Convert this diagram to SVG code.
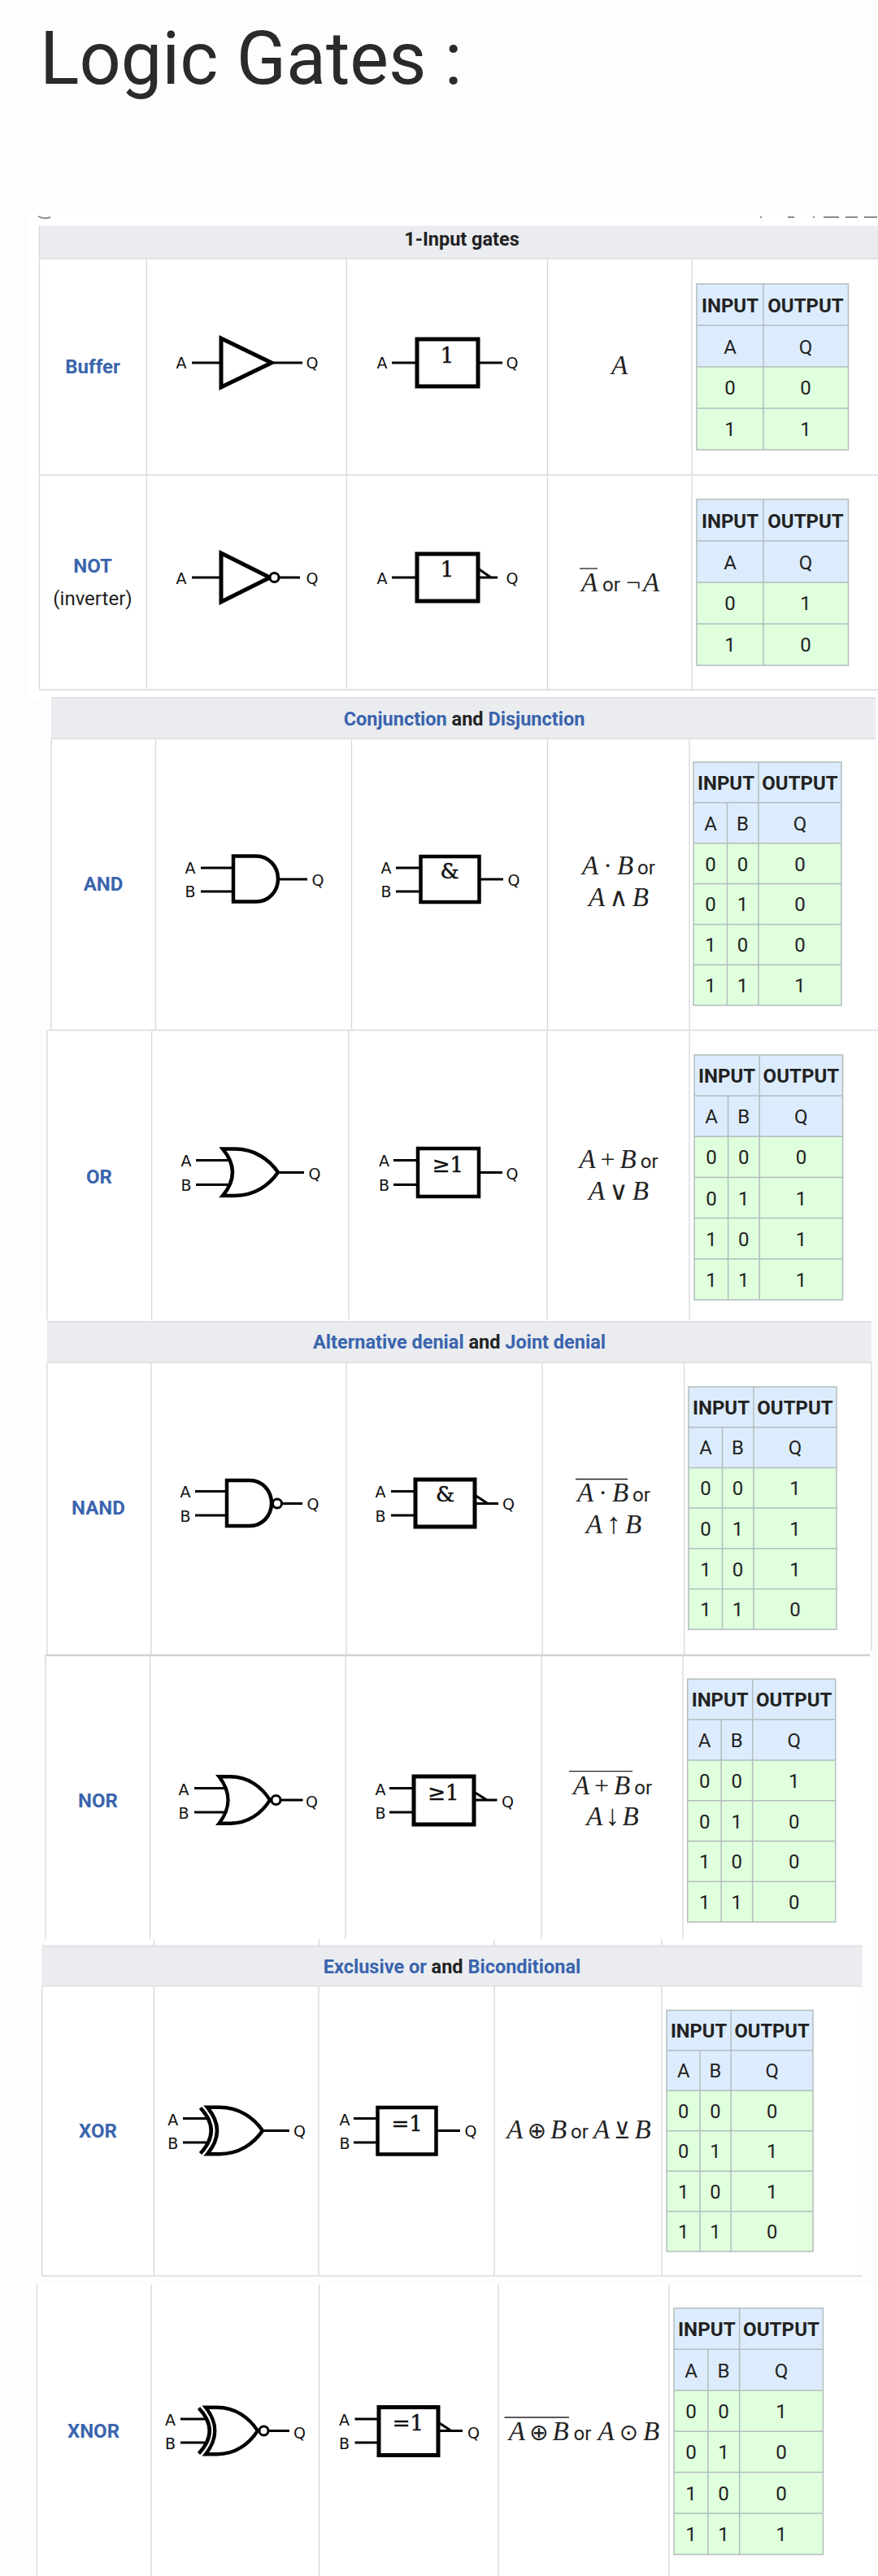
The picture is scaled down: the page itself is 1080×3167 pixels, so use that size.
<svg xmlns="http://www.w3.org/2000/svg" xmlns:xlink="http://www.w3.org/1999/xlink" width="1080" height="3167" viewBox="0 0 1080 3167">
<style>
text{font-family:Roboto,"Liberation Sans",sans-serif;fill:#222;text-anchor:middle}
.title{font-size:90px;fill:#2a2a2a;text-anchor:start}
.sh{font-size:23.5px;font-weight:700}
.lk{fill:#3a64ad}
.nm{font-size:24px;font-weight:700;fill:#3a64ad}
.pl{font-size:24px}
.th{font-size:24px;font-weight:700}
.c{font-size:24px}
.pin{font-family:"DejaVu Sans",sans-serif;font-size:19px;fill:#111}
.sym{font-family:"DejaVu Serif",serif;font-size:26px;fill:#111;stroke:#111;stroke-width:.5}
.mi{font-family:"Liberation Serif",serif;font-style:italic;font-size:33px}
.op{font-family:"Liberation Serif","DejaVu Sans",serif;font-size:32px}
.opc{font-family:"DejaVu Sans",sans-serif;font-size:28px}
.ar{font-family:"Liberation Serif","DejaVu Sans",serif;font-size:36px}
.or{font-family:Roboto,sans-serif;font-size:24px}
.hdr{fill:#eaecf0}
.ln{fill:none;stroke:#d5d7da;stroke-width:1.3}
.rl{fill:none;stroke:#e0e2e4;stroke-width:1.8}
.hl{fill:none;stroke:#d2d2d2;stroke-width:2.6}
.hd{fill:#dcecfd}.bd{fill:#dfffdd}
.tl{fill:none;stroke:#b3bdbd;stroke-width:1.5}
.b{fill:none;stroke:#000;stroke-width:4.5;stroke-linejoin:miter}
.t{fill:none;stroke:#000;stroke-width:5}
.w{fill:none;stroke:#000;stroke-width:3}
.n{fill:#fff;stroke:#000;stroke-width:3}
.ov{fill:none;stroke:#222;stroke-width:1.3}
.ar0{fill:none;stroke:#8a8a8a;stroke-width:2}
</style>
<defs>
<g id="tt1"><rect width="186.5" height="102" class="hd"/><rect y="102" width="186.5" height="102" class="bd"/><path class="tl" d="M0 0H186.5V204H0Z M0 51H186.5 M0 102H186.5 M0 153H186.5 M82 0V204"/></g>
<g id="tt2"><rect width="182" height="100" class="hd"/><rect y="100" width="182" height="200" class="bd"/><path class="tl" d="M0 0H182V300H0Z M0 50H182 M0 100H182 M0 150H182 M0 200H182 M0 250H182 M80 0V300 M41.5 50V300"/></g>
<path id="and" class="b" d="M0 -28H28C44 -28 55 -15 55 0C55 15 44 28 28 28H0Z"/>
<path id="or" class="b" d="M0 -28.7H15C39 -28.7 57 -16 68 0C57 16 39 28.7 15 28.7H0Q24 0 0 -28.7Z"/>
<path id="xb" class="b" d="M-8.5 -28Q18 0 -8.5 28"/>
</defs>
<rect width="1080" height="3167" fill="#fdfdfd"/>
<rect x="35" y="265" width="1045" height="595" fill="#fff"/>
<rect x="58" y="860" width="1022" height="765" fill="#fff"/>
<rect x="56" y="1675" width="1016" height="717" fill="#fff"/>
<rect x="52" y="2392" width="1009" height="406" fill="#fff"/>
<rect x="45" y="2809" width="1035" height="358" fill="#fff"/>
<text class="title" x="49" y="103">Logic Gates :</text>
<path class="ar0" d="M47 266Q54 270 62 267 M935 267H937 M969 267H977 M1000 267H1002 M1013 267H1032 M1040 267H1055 M1063 267H1079"/>

<g id="section-1">
<rect class="hdr" x="48" y="277.5" width="1032" height="40.5"/>
<path class="ln" d="M48.5 277V848 M180.4 318V848 M426.3 318V848 M673.5 318V848 M851 318V848"/>
<path class="rl" d="M48 318H1080 M48 584H1080 M48 848H1080"/>
<text class="sh" x="568" y="302">1-Input gates</text>
</g>

<g id="buffer">
<text class="nm" x="114" y="459">Buffer</text>
<path class="w" d="M236 446H272 M335 446H372 M482 446H512 M588 446H618"/>
<path class="t" d="M272 416V476L334 446Z"/>
<rect class="t" x="513" y="417" width="75" height="58"/>
<text class="pin" x="223" y="453">A</text><text class="pin" x="384" y="453">Q</text>
<text class="pin" x="470" y="453">A</text><text class="pin" x="630" y="453">Q</text>
<text class="sym" x="550" y="446">1</text>
<text class="mi" x="762" y="460">A</text>
<g transform="translate(857 349)"><use xlink:href="#tt1" href="#tt1"/>
<text class="th" x="41" y="35">INPUT</text><text class="th" x="134" y="35">OUTPUT</text>
<text class="c" x="41" y="86">A</text><text class="c" x="134" y="86">Q</text>
<text class="c" x="41" y="136">0</text><text class="c" x="134" y="136">0</text>
<text class="c" x="41" y="187">1</text><text class="c" x="134" y="187">1</text></g>
</g>

<g id="not">
<text class="nm" x="114" y="704">NOT</text>
<text class="pl" x="114" y="744">(inverter)</text>
<path class="w" d="M236 710H272 M344 710H369 M482 710H512 M588 710H612 M588 699L604 710"/>
<path class="t" d="M272 680V740L332 710Z"/>
<circle class="n" cx="337.5" cy="710" r="5.5"/>
<rect class="t" x="513" y="681" width="75" height="58"/>
<text class="pin" x="223" y="718">A</text><text class="pin" x="384" y="718">Q</text>
<text class="pin" x="470" y="718">A</text><text class="pin" x="630" y="718">Q</text>
<text class="sym" x="550" y="709">1</text>
<path class="ov" d="M713 699H735"/>
<text x="763" y="727"><tspan class="mi">A</tspan><tspan class="or" dx="6">or</tspan><tspan class="op" dx="7">¬</tspan><tspan class="mi" dx="3">A</tspan></text>
<g transform="translate(857 614)"><use xlink:href="#tt1" href="#tt1"/>
<text class="th" x="41" y="35">INPUT</text><text class="th" x="134" y="35">OUTPUT</text>
<text class="c" x="41" y="86">A</text><text class="c" x="134" y="86">Q</text>
<text class="c" x="41" y="136">0</text><text class="c" x="134" y="136">1</text>
<text class="c" x="41" y="187">1</text><text class="c" x="134" y="187">0</text></g>
</g>

<g id="section-2">
<rect class="hdr" x="63" y="858" width="1014" height="50"/>
<path class="ln" d="M63 908V1266 M191.5 908V1266 M432.5 908V1266 M673.5 908V1266 M848 908V1266 M58 1266V1622 M186.6 1266V1622 M429 1266V1622 M673 1266V1622 M848 1266V1622"/>
<path class="rl" d="M63 858H1077 M63 908H1077 M60 1266.5H1080"/>
<text class="sh" x="571" y="892"><tspan class="lk">Conjunction</tspan> and <tspan class="lk">Disjunction</tspan></text>
</g>

<g id="and-row">
<text class="nm" x="127" y="1095">AND</text>
<path class="w" d="M247 1067H285 M247 1096H285 M342 1081H378 M487 1067H517 M487 1096H517 M590 1081H619"/>
<use xlink:href="#and" href="#and" x="287" y="1080.5"/>
<rect class="b" x="517.5" y="1053" width="72" height="56"/>
<text class="pin" x="234" y="1074">A</text><text class="pin" x="234" y="1103">B</text><text class="pin" x="391" y="1089">Q</text>
<text class="pin" x="475" y="1074">A</text><text class="pin" x="475" y="1103">B</text><text class="pin" x="632" y="1089">Q</text>
<text class="sym" x="553" y="1080">&amp;</text>
<text x="761" y="1075"><tspan class="mi">A</tspan><tspan class="op" dx="6">·</tspan><tspan class="mi" dx="6">B</tspan><tspan class="or" dx="5">or</tspan></text>
<text x="761" y="1113.5"><tspan class="mi">A</tspan><tspan class="op" dx="5">∧</tspan><tspan class="mi" dx="5">B</tspan></text>
<g transform="translate(853 937) scale(1 .997)"><use xlink:href="#tt2" href="#tt2"/>
<text class="th" x="40" y="34">INPUT</text><text class="th" x="131" y="34">OUTPUT</text>
<text class="c" x="21" y="84">A</text><text class="c" x="60.5" y="84">B</text><text class="c" x="131" y="84">Q</text>
<text class="c" x="21" y="134">0</text><text class="c" x="60.5" y="134">0</text><text class="c" x="131" y="134">0</text>
<text class="c" x="21" y="184">0</text><text class="c" x="60.5" y="184">1</text><text class="c" x="131" y="184">0</text>
<text class="c" x="21" y="234">1</text><text class="c" x="60.5" y="234">0</text><text class="c" x="131" y="234">0</text>
<text class="c" x="21" y="284">1</text><text class="c" x="60.5" y="284">1</text><text class="c" x="131" y="284">1</text></g>
</g>

<g id="or-row">
<text class="nm" x="122" y="1455">OR</text>
<path class="w" d="M241 1426.5H281 M241 1456.5H281 M341 1441.5H374 M484 1426.5H514 M484 1456.5H514 M589 1441.5H618"/>
<use xlink:href="#or" href="#or" x="274" y="1441.3"/>
<rect class="b" x="514" y="1412" width="75" height="59"/>
<text class="pin" x="229" y="1433.5">A</text><text class="pin" x="229" y="1464">B</text><text class="pin" x="387" y="1449.5">Q</text>
<text class="pin" x="472.5" y="1433.5">A</text><text class="pin" x="472.5" y="1464">B</text><text class="pin" x="630" y="1449.5">Q</text>
<text class="sym" x="551" y="1441">≥1</text>
<text x="761" y="1435.5"><tspan class="mi">A</tspan><tspan class="op" dx="6">+</tspan><tspan class="mi" dx="6">B</tspan><tspan class="or" dx="5">or</tspan></text>
<text x="761" y="1474.5"><tspan class="mi">A</tspan><tspan class="op" dx="5">∨</tspan><tspan class="mi" dx="5">B</tspan></text>
<g transform="translate(854 1297) scale(1.003 1.003)"><use xlink:href="#tt2" href="#tt2"/>
<text class="th" x="40" y="34">INPUT</text><text class="th" x="131" y="34">OUTPUT</text>
<text class="c" x="21" y="84">A</text><text class="c" x="60.5" y="84">B</text><text class="c" x="131" y="84">Q</text>
<text class="c" x="21" y="134">0</text><text class="c" x="60.5" y="134">0</text><text class="c" x="131" y="134">0</text>
<text class="c" x="21" y="184">0</text><text class="c" x="60.5" y="184">1</text><text class="c" x="131" y="184">1</text>
<text class="c" x="21" y="234">1</text><text class="c" x="60.5" y="234">0</text><text class="c" x="131" y="234">1</text>
<text class="c" x="21" y="284">1</text><text class="c" x="60.5" y="284">1</text><text class="c" x="131" y="284">1</text></g>
</g>

<g id="section-3">
<rect class="hdr" x="58" y="1625" width="1014" height="50"/>
<path class="ln" d="M58 1675V2035 M186 1675V2035 M426 1675V2035 M667 1675V2035 M841.6 1675V2035 M1072 1675V2030 M56 2035V2384 M184.6 2035V2384 M425 2035V2384 M666 2035V2384 M840 2035V2384"/>
<path class="rl" d="M58 1625H1072 M58 1675H1072"/>
<path class="hl" d="M56 2035H1070"/>
<text class="sh" x="565" y="1658"><tspan class="lk">Alternative denial</tspan> and <tspan class="lk">Joint denial</tspan></text>
</g>

<g id="nand-row">
<text class="nm" x="121" y="1862">NAND</text>
<path class="w" d="M240 1833.5H278 M240 1863H278 M347 1848.5H372 M481 1833.5H510 M481 1863H510 M584 1848.5H613 M584 1838L600 1848.5"/>
<use xlink:href="#and" href="#and" x="279" y="1848"/>
<circle class="n" cx="341" cy="1848.5" r="5.5"/>
<rect class="t" x="511" y="1819" width="73" height="58"/>
<text class="pin" x="228" y="1841">A</text><text class="pin" x="228" y="1870.5">B</text><text class="pin" x="385" y="1856">Q</text>
<text class="pin" x="468" y="1841">A</text><text class="pin" x="468" y="1870.5">B</text><text class="pin" x="625.5" y="1856">Q</text>
<text class="sym" x="547.5" y="1846">&amp;</text>
<path class="ov" d="M708 1818.5H772"/>
<text x="755" y="1845.5"><tspan class="mi">A</tspan><tspan class="op" dx="6">·</tspan><tspan class="mi" dx="6">B</tspan><tspan class="or" dx="5">or</tspan></text>
<text x="755" y="1884.5"><tspan class="mi">A</tspan><tspan class="ar" dx="5">↑</tspan><tspan class="mi" dx="5">B</tspan></text>
<g transform="translate(847 1705) scale(1 .994)"><use xlink:href="#tt2" href="#tt2"/>
<text class="th" x="40" y="34">INPUT</text><text class="th" x="131" y="34">OUTPUT</text>
<text class="c" x="21" y="84">A</text><text class="c" x="60.5" y="84">B</text><text class="c" x="131" y="84">Q</text>
<text class="c" x="21" y="134">0</text><text class="c" x="60.5" y="134">0</text><text class="c" x="131" y="134">1</text>
<text class="c" x="21" y="184">0</text><text class="c" x="60.5" y="184">1</text><text class="c" x="131" y="184">1</text>
<text class="c" x="21" y="234">1</text><text class="c" x="60.5" y="234">0</text><text class="c" x="131" y="234">1</text>
<text class="c" x="21" y="284">1</text><text class="c" x="60.5" y="284">1</text><text class="c" x="131" y="284">0</text></g>
</g>

<g id="nor-row">
<text class="nm" x="120.5" y="2221.5">NOR</text>
<path class="w" d="M239 2198.5H276 M239 2228H276 M346 2213H372.5 M479 2198.5H508 M479 2228H508 M583 2213H611.5 M583 2203L599 2213"/>
<use xlink:href="#or" href="#or" transform="translate(269.5 2213) scale(.92 1)"/>
<circle class="n" cx="339.5" cy="2213" r="5.5"/>
<rect class="t" x="509" y="2184" width="74" height="59"/>
<text class="pin" x="226" y="2206.5">A</text><text class="pin" x="226" y="2235.5">B</text><text class="pin" x="383.5" y="2221.5">Q</text>
<text class="pin" x="468" y="2206.5">A</text><text class="pin" x="468" y="2235.5">B</text><text class="pin" x="624.5" y="2221.5">Q</text>
<text class="sym" x="545.5" y="2213">≥1</text>
<path class="ov" d="M700 2177.7H778"/>
<text x="753.5" y="2205.5"><tspan class="mi">A</tspan><tspan class="op" dx="6">+</tspan><tspan class="mi" dx="6">B</tspan><tspan class="or" dx="5">or</tspan></text>
<text x="753.5" y="2244"><tspan class="mi">A</tspan><tspan class="ar" dx="3">↓</tspan><tspan class="mi" dx="3">B</tspan></text>
<g transform="translate(845.7 2064.3) scale(1 .996)"><use xlink:href="#tt2" href="#tt2"/>
<text class="th" x="40" y="34">INPUT</text><text class="th" x="131" y="34">OUTPUT</text>
<text class="c" x="21" y="84">A</text><text class="c" x="60.5" y="84">B</text><text class="c" x="131" y="84">Q</text>
<text class="c" x="21" y="134">0</text><text class="c" x="60.5" y="134">0</text><text class="c" x="131" y="134">1</text>
<text class="c" x="21" y="184">0</text><text class="c" x="60.5" y="184">1</text><text class="c" x="131" y="184">0</text>
<text class="c" x="21" y="234">1</text><text class="c" x="60.5" y="234">0</text><text class="c" x="131" y="234">0</text>
<text class="c" x="21" y="284">1</text><text class="c" x="60.5" y="284">1</text><text class="c" x="131" y="284">0</text></g>
</g>

<g id="section-4">
<rect class="hdr" x="51.6" y="2392.5" width="1009" height="49"/>
<path class="ln" d="M189.4 2384V2392 M392.5 2384V2392 M608 2384V2392 M814 2384V2392 M51.6 2441V2798 M189.4 2441V2798 M392 2441V2798 M608 2441V2798 M814 2441V2798 M45.5 2809V3167 M186 2809V3167 M392.6 2809V3167 M613 2809V3167 M823 2809V3167"/>
<path class="rl" d="M51.6 2392.5H1060.6 M51.6 2441.7H1060.6 M51.6 2798H1060.6"/>
<text class="sh" x="556" y="2426"><tspan class="lk">Exclusive or</tspan> and <tspan class="lk">Biconditional</tspan></text>
</g>

<g id="xor-row">
<text class="nm" x="120.5" y="2628">XOR</text>
<path class="w" d="M225 2604.5H257 M225 2634H257 M323 2619.5H356 M435 2604.5H464 M435 2634H464 M537 2619.5H566"/>
<use xlink:href="#or" href="#or" x="255" y="2619.5"/>
<use xlink:href="#xb" href="#xb" x="255" y="2619.5"/>
<rect class="b" x="464.5" y="2591" width="72" height="57.5"/>
<text class="pin" x="212.7" y="2612.5">A</text><text class="pin" x="212.7" y="2641.5">B</text><text class="pin" x="368.5" y="2627">Q</text>
<text class="pin" x="424" y="2612.5">A</text><text class="pin" x="424" y="2641.5">B</text><text class="pin" x="579" y="2627">Q</text>
<text class="sym" x="500.7" y="2620">=1</text>
<text x="712" y="2628.5"><tspan class="mi">A</tspan><tspan class="opc" dx="5">⊕</tspan><tspan class="mi" dx="5">B</tspan><tspan class="or" dx="5">or</tspan><tspan class="mi" dx="6">A</tspan><tspan class="opc" dx="5">⊻</tspan><tspan class="mi" dx="5">B</tspan></text>
<g transform="translate(820 2471.4) scale(.989 .989)"><use xlink:href="#tt2" href="#tt2"/>
<text class="th" x="40" y="34">INPUT</text><text class="th" x="131" y="34">OUTPUT</text>
<text class="c" x="21" y="84">A</text><text class="c" x="60.5" y="84">B</text><text class="c" x="131" y="84">Q</text>
<text class="c" x="21" y="134">0</text><text class="c" x="60.5" y="134">0</text><text class="c" x="131" y="134">0</text>
<text class="c" x="21" y="184">0</text><text class="c" x="60.5" y="184">1</text><text class="c" x="131" y="184">1</text>
<text class="c" x="21" y="234">1</text><text class="c" x="60.5" y="234">0</text><text class="c" x="131" y="234">1</text>
<text class="c" x="21" y="284">1</text><text class="c" x="60.5" y="284">1</text><text class="c" x="131" y="284">0</text></g>
</g>

<g id="xnor-row">
<text class="nm" x="115" y="2996.5">XNOR</text>
<path class="w" d="M222 2974H254 M222 3003H254 M330 2988.5H356 M436.5 2974H465.5 M436.5 3003H465.5 M539 2988.5H569 M539 2978L555 2988.5"/>
<use xlink:href="#or" href="#or" transform="translate(253 2988.5) scale(.94 1)"/>
<use xlink:href="#xb" href="#xb" x="253" y="2988.5"/>
<circle class="n" cx="324.5" cy="2988.5" r="5.5"/>
<rect class="t" x="466" y="2959.5" width="73" height="59"/>
<text class="pin" x="209.5" y="2981.5">A</text><text class="pin" x="209.5" y="3010.5">B</text><text class="pin" x="368.5" y="2997.5">Q</text>
<text class="pin" x="423.5" y="2981.5">A</text><text class="pin" x="423.5" y="3010.5">B</text><text class="pin" x="582.5" y="2997.5">Q</text>
<text class="sym" x="502" y="2987.5">=1</text>
<path class="ov" d="M620.5 2972H700"/>
<text x="718.5" y="3000"><tspan class="mi">A</tspan><tspan class="opc" dx="5">⊕</tspan><tspan class="mi" dx="5">B</tspan><tspan class="or" dx="6">or</tspan><tspan class="mi" dx="8">A</tspan><tspan class="opc" dx="6">⊙</tspan><tspan class="mi" dx="6">B</tspan></text>
<g transform="translate(829 2837.8) scale(1.008 1.009)"><use xlink:href="#tt2" href="#tt2"/>
<text class="th" x="40" y="34">INPUT</text><text class="th" x="131" y="34">OUTPUT</text>
<text class="c" x="21" y="84">A</text><text class="c" x="60.5" y="84">B</text><text class="c" x="131" y="84">Q</text>
<text class="c" x="21" y="134">0</text><text class="c" x="60.5" y="134">0</text><text class="c" x="131" y="134">1</text>
<text class="c" x="21" y="184">0</text><text class="c" x="60.5" y="184">1</text><text class="c" x="131" y="184">0</text>
<text class="c" x="21" y="234">1</text><text class="c" x="60.5" y="234">0</text><text class="c" x="131" y="234">0</text>
<text class="c" x="21" y="284">1</text><text class="c" x="60.5" y="284">1</text><text class="c" x="131" y="284">1</text></g>
</g>
</svg>
